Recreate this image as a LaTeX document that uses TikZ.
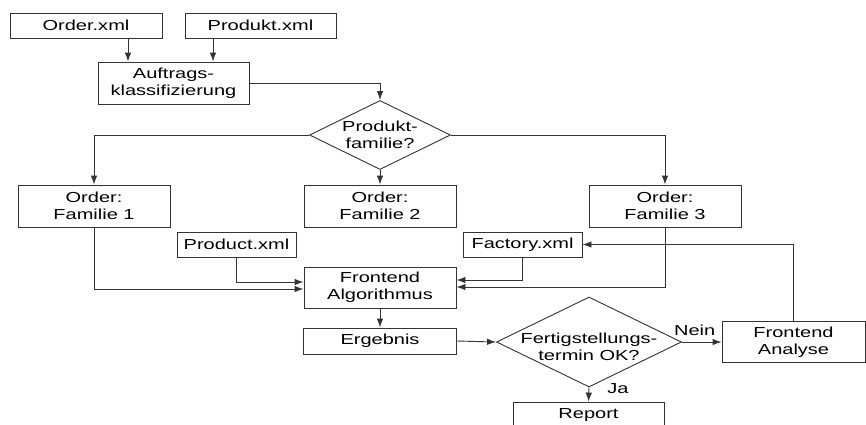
\documentclass[tikz,border=0pt]{standalone}
\usepackage{fontspec}
\setmainfont{Liberation Sans}[FakeStretch=1.38]
\usetikzlibrary{shapes.geometric,arrows.meta}

\begin{document}
\begin{tikzpicture}[x=1pt,y=-1pt,
    txt/.style={align=center,inner sep=0pt,text=black,font=\fontsize{14.5}{17}\selectfont},
    box/.style={txt,draw=black!80,line width=0.9pt,minimum width=152,minimum height=42},
    raute/.style={diamond,draw=black!80,line width=0.9pt,inner sep=0pt},
    pfeil/.style={draw=black!80,line width=0.9pt,-{Latex[length=9pt,width=6.5pt]}}]
    \useasboundingbox (0,0) rectangle (866,424);
    \clip (0,0) rectangle (866,424);

    % Eingaben
    \node[box,minimum height=25] (order) at (86,25.5) {Order.xml};
    \node[box,minimum width=151,minimum height=25] (produkt) at (260.5,25.5) {Produkt.xml};
    \node[box,minimum width=151] (auftrag) at (173.5,83) {Auftrags-\\klassifizierung};

    % Produktfamilie
    \node[raute,minimum width=141,minimum height=69,label={[txt]center:Produkt-\\familie?}] (pf) at (380,135) {};
    \node[box] (fam1) at (94,206) {Order:\\Familie 1};
    \node[box] (fam2) at (380,206) {Order:\\Familie 2};
    \node[box] (fam3) at (665,206) {Order:\\Familie 3};

    % Frontend
    \node[box,minimum width=119,minimum height=25] (product) at (236.5,244.5) {Product.xml};
    \node[box,minimum width=119,minimum height=25] (factory) at (522.5,244.5) {Factory.xml};
    \node[box,minimum height=41] (fa) at (380,287.5) {Frontend\\Algorithmus};
    \node[box,minimum width=153,minimum height=26] (erg) at (380,341) {Ergebnis};

    % Pruefung
    \node[raute,minimum width=185,minimum height=90,label={[txt,yshift=-5pt]center:Fertigstellungs-\\termin OK?}] (ft) at (589,342) {};
    \node[box,minimum width=143,minimum height=41] (fan) at (793.5,342) {Frontend\\Analyse};
    \node[box,minimum width=151,minimum height=26] (report) at (588.5,415) {Report};

    % Pfeile oben
    \coordinate (o1) at ([xshift=42pt]order.south);
    \coordinate (p1) at ([xshift=-47.5pt]produkt.south);
    \draw[pfeil] (o1) -- (o1 |- auftrag.north);
    \draw[pfeil] (p1) -- (p1 |- auftrag.north);
    \draw[pfeil] (auftrag.east) -| (pf.north);
    \draw[pfeil] (pf.west) -| (fam1.north);
    \draw[pfeil] (pf.south) -- (fam2.north);
    \draw[pfeil] (pf.east) -| (fam3.north);

    % Pfeile zum Algorithmus
    \draw[pfeil] (product.south) |- ([yshift=5.5pt]fa.west);
    \draw[pfeil] (fam1.south) |- ([yshift=-1.5pt]fa.west);
    \draw[pfeil] (factory.south) |- ([yshift=7.5pt]fa.east);
    \draw[pfeil] (fam3.south) |- ([yshift=0.5pt]fa.east);

    % Pfeile unten
    \draw[pfeil] (fa.south) -- (erg.north);
    \draw[pfeil] (erg.east) -- (ft.west);
    \draw[pfeil] (ft.east) -- node[txt,above=6pt,pos=0.32] (nein) {Nein} (fan.west);
    \draw[pfeil] (fan.north) |- (factory.east);
    \draw[pfeil] (ft.south) -- node[txt,right=18pt,pos=0.1] (ja) {Ja} (report.north);
\end{tikzpicture}
\end{document}
